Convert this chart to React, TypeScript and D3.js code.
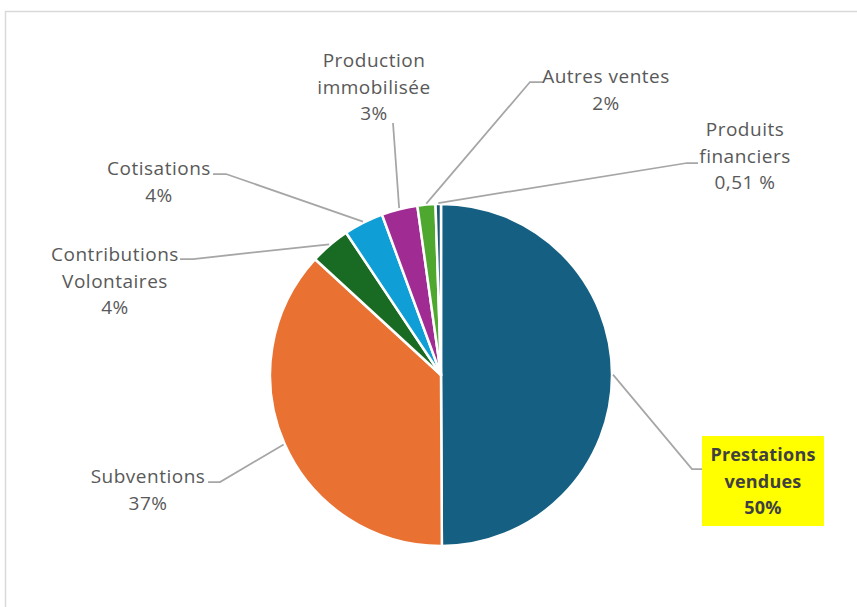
import React from "react";
import * as d3 from "d3";

const categories = [
  "Prestations vendues",
  "Subventions",
  "Contributions Volontaires",
  "Cotisations",
  "Production immobilisée",
  "Autres ventes",
  "Produits financiers",
];
const values = [49.9, 36.9, 3.8, 3.75, 3.4, 1.7, 0.51];
const labelLines = [
  ["Prestations", "vendues", "50%"],
  ["Subventions", "37%"],
  ["Contributions", "Volontaires", "4%"],
  ["Cotisations", "4%"],
  ["Production", "immobilisée", "3%"],
  ["Autres ventes", "2%"],
  ["Produits", "financiers", "0,51 %"],
];
const colors = ["#156082", "#E97132", "#196B24", "#0F9ED5", "#A02B93", "#4EA72E", "#1B5673"];

// layout of labels: text center x, first baseline y, elbow, end of leader
const labelLayout = [
  { x: 763, y: 461, elbow: [692, 469], end: [702, 469], box: [702, 436, 122, 90] },
  { x: 148, y: 483, elbow: [220, 482], end: [208, 482] },
  { x: 115, y: 261, elbow: [193, 259], end: [180, 259] },
  { x: 159, y: 175, elbow: [226, 174], end: [213, 174] },
  { x: 374, y: 67, elbow: [393, 123], end: [393, 123] },
  { x: 606, y: 83, elbow: [530, 82], end: [543, 82] },
  { x: 745, y: 136, elbow: [687, 163], end: [698, 163] },
];

const W = 857;
const H = 607;
const cx = 441;
const cy = 375;
const R = 171;
const LINE = 26.5;

export default function App() {
  const pie = d3
    .pie<number>()
    .sort(null)
    .value((d) => d)
    .startAngle(0)
    .endAngle(2 * Math.PI);
  const arcs = pie(values);
  const arc = d3.arc<d3.PieArcDatum<number>>().innerRadius(0).outerRadius(R);

  return (
    <svg
      width={W}
      height={H}
      style={{ position: "absolute", left: 0, top: 0, background: "#fff" }}
      fontFamily="'Open Sans', sans-serif"
    >
      <rect x={0} y={0} width={W} height={H} fill="#fff" />
      <path d={`M5.5,${H} V11.5 H${W}`} fill="none" stroke="#d9d9d9" strokeWidth={1.5} />
      <g transform={`translate(${cx},${cy})`}>
        {arcs.map((a, i) => (
          <path key={categories[i]} d={arc(a) || ""} fill={colors[i]} stroke="#fff" strokeWidth={2.5} strokeLinejoin="round" />
        ))}
      </g>
      {arcs.map((a, i) => {
        const mid = (a.startAngle + a.endAngle) / 2;
        const sx = cx + (R + 1) * Math.sin(mid);
        const sy = cy - (R + 1) * Math.cos(mid);
        const L = labelLayout[i];
        return (
          <polyline
            key={"l" + i}
            points={`${sx},${sy} ${L.elbow[0]},${L.elbow[1]} ${L.end[0]},${L.end[1]}`}
            fill="none"
            stroke="#a6a6a6"
            strokeWidth={1.75}
          />
        );
      })}
      {labelLayout.map((L, i) => (
        <g key={"t" + i}>
          {L.box && <rect x={L.box[0]} y={L.box[1]} width={L.box[2]} height={L.box[3]} fill="#FFFF00" />}
          <text
            textAnchor="middle"
            fontSize={i === 0 ? 18 : 19}
            letterSpacing={i === 0 ? 0.2 : 0.5}
            fill={i === 0 ? "#404040" : "#595959"}
            fontWeight={i === 0 ? 700 : 400}
          >
            {labelLines[i].map((t, j) => (
              <tspan key={j} x={L.x} y={L.y + j * LINE}>
                {t}
              </tspan>
            ))}
          </text>
        </g>
      ))}
    </svg>
  );
}
